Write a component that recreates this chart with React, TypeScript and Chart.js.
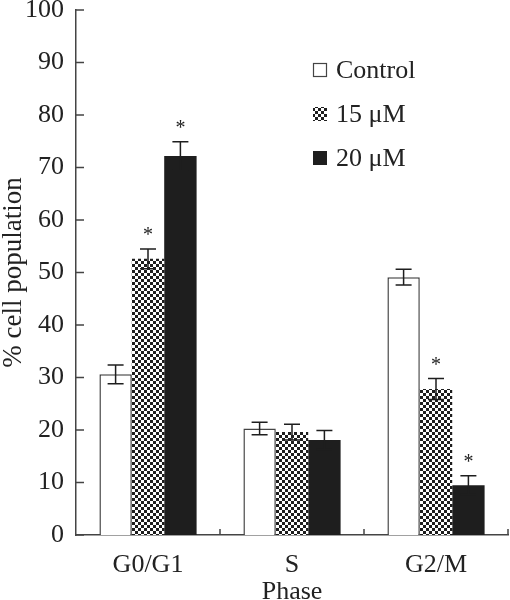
import React, { useEffect, useRef } from "react";
import { Chart, registerables } from "chart.js";

Chart.register(...registerables);

const categories = ["G0/G1", "S", "G2/M"];
const seriesNames = ["Control", "15 μM", "20 μM"];
const controlValues = [30.6, 20.3, 49.1];
const controlErrors = [1.8, 1.2, 1.5];
const m15Values = [52.6, 19.6, 27.8];
const m15Errors = [1.9, 1.5, 2.0];
const m20Values = [72.2, 18.1, 9.5];
const m20Errors = [2.7, 1.8, 1.8];
const controlSig = [false, false, false];
const m15Sig = [true, false, true];
const m20Sig = [true, false, true];
const yTicks = [0, 10, 20, 30, 40, 50, 60, 70, 80, 90, 100];

const FONT = "'Liberation Serif', 'DejaVu Serif', serif";
const INK = "#222";
const AXIS = "#444";
const DARK = "#1e1e1e";

function makeChecker(): CanvasPattern | string {
  const c = document.createElement("canvas");
  c.width = 6;
  c.height = 6;
  const g = c.getContext("2d");
  if (!g) return "#888";
  g.fillStyle = "#fff";
  g.fillRect(0, 0, 6, 6);
  g.fillStyle = DARK;
  g.fillRect(0, 0, 3, 3);
  g.fillRect(3, 3, 3, 3);
  const p = g.createPattern(c, "repeat");
  return p || "#888";
}

export default function App() {
  const ref = useRef<HTMLCanvasElement | null>(null);

  useEffect(() => {
    document.body.style.margin = "0";
    const canvas = ref.current;
    if (!canvas) return;
    const checker = makeChecker();
    const errs = [controlErrors, m15Errors, m20Errors];
    const sigs = [controlSig, m15Sig, m20Sig];

    const extras = {
      id: "extras",
      afterDatasetsDraw(chart: any) {
        const ctx = chart.ctx;
        const ys = chart.scales.y;
        ctx.save();
        chart.data.datasets.forEach((ds: any, i: number) => {
          const meta = chart.getDatasetMeta(i);
          meta.data.forEach((el: any, j: number) => {
            const v = ds.data[j];
            const e = errs[i][j];
            const x = el.x;
            const yT = ys.getPixelForValue(v + e);
            const yB = ys.getPixelForValue(v - e);
            ctx.strokeStyle = DARK;
            ctx.lineWidth = 1.5;
            ctx.beginPath();
            ctx.moveTo(x, yT);
            ctx.lineTo(x, yB);
            ctx.moveTo(x - 8, yT);
            ctx.lineTo(x + 8, yT);
            ctx.moveTo(x - 8, yB);
            ctx.lineTo(x + 8, yB);
            ctx.stroke();
            if (sigs[i][j]) {
              ctx.fillStyle = INK;
              ctx.font = `20px ${FONT}`;
              ctx.textAlign = "center";
              ctx.textBaseline = "alphabetic";
              ctx.fillText("*", x, yT - 8);
            }
          });
        });
        ctx.restore();
      },
      afterDraw(chart: any) {
        const ctx = chart.ctx;
        const ys = chart.scales.y;
        const xs = chart.scales.x;
        const area = chart.chartArea;
        ctx.save();
        ctx.strokeStyle = AXIS;
        ctx.lineWidth = 1.5;
        ctx.beginPath();
        yTicks.forEach((t) => {
          const y = ys.getPixelForValue(t);
          ctx.moveTo(area.left, y);
          ctx.lineTo(area.left + 8, y);
        });
        const n = categories.length;
        const step = xs.getPixelForValue(1) - xs.getPixelForValue(0);
        for (let k = 0; k < n; k++) {
          const x = xs.getPixelForValue(k) + step / 2;
          ctx.moveTo(x, area.bottom);
          ctx.lineTo(x, area.bottom - 6);
        }
        ctx.stroke();

        // legend
        const lx = 313;
        const rows = [70, 114, 158];
        chart.data.datasets.forEach((ds: any, i: number) => {
          const cy = rows[i];
          ctx.fillStyle = ds.backgroundColor;
          ctx.fillRect(lx, cy - 7, 14, 14);
          if (ds.borderWidth) {
            ctx.strokeStyle = AXIS;
            ctx.lineWidth = 1.2;
            ctx.strokeRect(lx + 0.5, cy - 6.5, 13, 13);
          }
          ctx.fillStyle = INK;
          ctx.font = `26px ${FONT}`;
          ctx.textAlign = "left";
          ctx.textBaseline = "middle";
          ctx.fillText(ds.label, lx + 23, cy + 1);
        });
        ctx.restore();
      },
    };

    const chart = new Chart(canvas, {
      type: "bar",
      data: {
        labels: categories,
        datasets: [
          {
            label: seriesNames[0],
            data: controlValues,
            backgroundColor: "#ffffff",
            borderColor: AXIS,
            borderWidth: 1.5,
          },
          {
            label: seriesNames[1],
            data: m15Values,
            backgroundColor: checker as any,
            borderWidth: 0,
          },
          {
            label: seriesNames[2],
            data: m20Values,
            backgroundColor: DARK,
            borderWidth: 0,
          },
        ],
      },
      options: {
        responsive: false,
        animation: false,
        layout: { padding: { top: 10, right: 2, left: 0, bottom: 0 } },
        plugins: {
          legend: { display: false },
          tooltip: { enabled: false },
        },
        datasets: {
          bar: { categoryPercentage: 0.675, barPercentage: 1.0 },
        },
        scales: {
          x: {
            type: "category",
            grid: { display: false, drawTicks: false },
            border: { display: true, color: AXIS, width: 1.5 },
            ticks: { font: { family: FONT, size: 26 }, color: INK, padding: 15, maxRotation: 0 },
            title: {
              display: true,
              text: "Phase",
              font: { family: FONT, size: 26, lineHeight: 1 },
              color: INK,
              padding: { top: 0, bottom: -5 },
            },
            afterFit(scale: any) {
              scale.height = 65;
              scale.paddingLeft = 0;
              scale.paddingRight = 0;
            },
          },
          y: {
            min: 0,
            max: 100,
            grid: { display: false, drawTicks: false },
            border: { display: true, color: AXIS, width: 1.5 },
            ticks: {
              stepSize: 10,
              font: { family: FONT, size: 26 },
              color: INK,
              padding: 12,
            },
            title: {
              display: true,
              text: "% cell population",
              font: { family: FONT, size: 27, lineHeight: 1 },
              color: INK,
              padding: { top: 0, bottom: 0 },
            },
            afterFit(scale: any) {
              scale.width = 76;
              scale.paddingTop = 0;
              scale.paddingBottom = 0;
            },
          },
        },
      },
      plugins: [extras],
    });
    return () => chart.destroy();
  }, []);

  return <canvas ref={ref} width={510} height={600} style={{ display: "block" }} />;
}
